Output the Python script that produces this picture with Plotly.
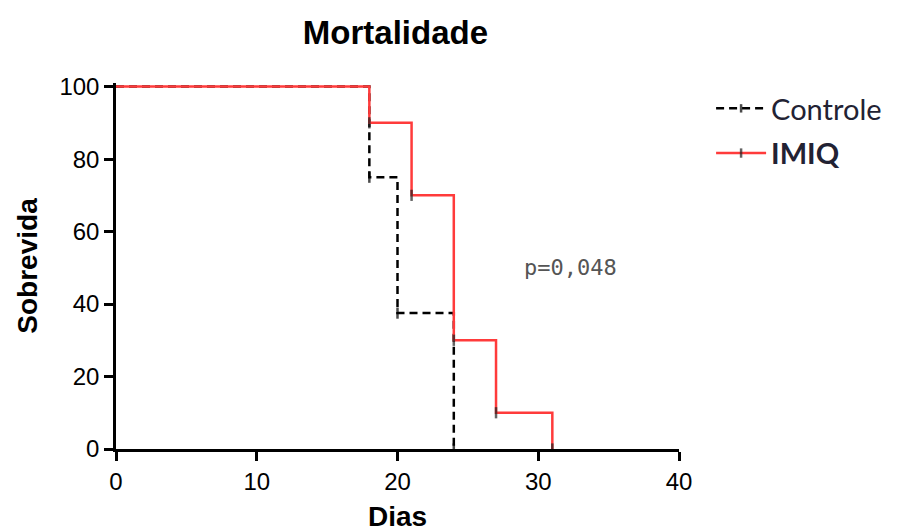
import plotly.graph_objects as go

# Kaplan-Meier step data
dias_controle = [0, 18, 20, 24]
sobrev_controle = [100, 75, 37.5, 0]
dias_imiq = [0, 18, 21, 24, 27, 31]
sobrev_imiq = [100, 90, 70, 30, 10, 0]

x_ticks = [0, 10, 20, 30, 40]
y_ticks = [0, 20, 40, 60, 80, 100]
p_text = "p=0,048"
p_pos = (32.3, 50)

fig = go.Figure()

fig.add_trace(go.Scatter(
    x=dias_controle, y=sobrev_controle, mode="lines+markers", line_shape="hv",
    name="Controle", legendgroup="c",
    line=dict(color="black", width=2.5, dash="8px,5px"),
    marker=dict(symbol="line-ns", size=[0] + [8] * (len(dias_controle) - 1),
                line=dict(color="black", width=2.5)),
))
fig.add_trace(go.Scatter(
    x=dias_imiq, y=sobrev_imiq, mode="lines+markers", line_shape="hv",
    name="<b>IMIQ</b>", legendgroup="i",
    line=dict(color="#ff3b3b", width=2.5),
    marker=dict(symbol="line-ns", size=[0] + [8] * (len(dias_imiq) - 1),
                line=dict(color="#222222", width=2.5)),
))

fig.add_annotation(x=p_pos[0], y=p_pos[1], text=p_text, showarrow=False,
                   font=dict(family="DejaVu Sans Mono", size=22, color="#555555"))

fig.update_layout(
    width=901, height=530,
    margin=dict(l=108, r=230, t=75, b=89),
    plot_bgcolor="white", paper_bgcolor="white",
    font=dict(family="Liberation Sans, Arial", color="black"),
    title=dict(text="<b>Mortalidade</b>", x=0.43, xanchor="center", y=0.953, yanchor="middle",
               font=dict(size=33, family="Liberation Sans, Arial", color="black")),
    showlegend=True,
    legend=dict(x=1.057, y=1.0, xanchor="left", yanchor="top", tracegroupgap=4,
                itemwidth=50,
                font=dict(family="Lato", size=29, color="#222233"),
                bgcolor="rgba(0,0,0,0)"),
    xaxis=dict(range=[0, 40], tickvals=x_ticks, showgrid=False, zeroline=False,
               showline=True, linecolor="black", linewidth=2.5,
               ticks="outside", ticklen=9, tickwidth=2.5, tickcolor="black",
               tickfont=dict(size=24),
               title=dict(text="<b>Dias</b>", font=dict(size=28), standoff=13)),
    yaxis=dict(range=[0, 101], tickvals=y_ticks, showgrid=False, zeroline=False,
               showline=True, linecolor="black", linewidth=2.5,
               ticks="outside", ticklen=9, tickwidth=2.5, tickcolor="black",
               tickfont=dict(size=24),
               title=dict(text="<b>Sobrevida</b>", font=dict(size=28), standoff=14)),
)

fig.write_html("out.html")
